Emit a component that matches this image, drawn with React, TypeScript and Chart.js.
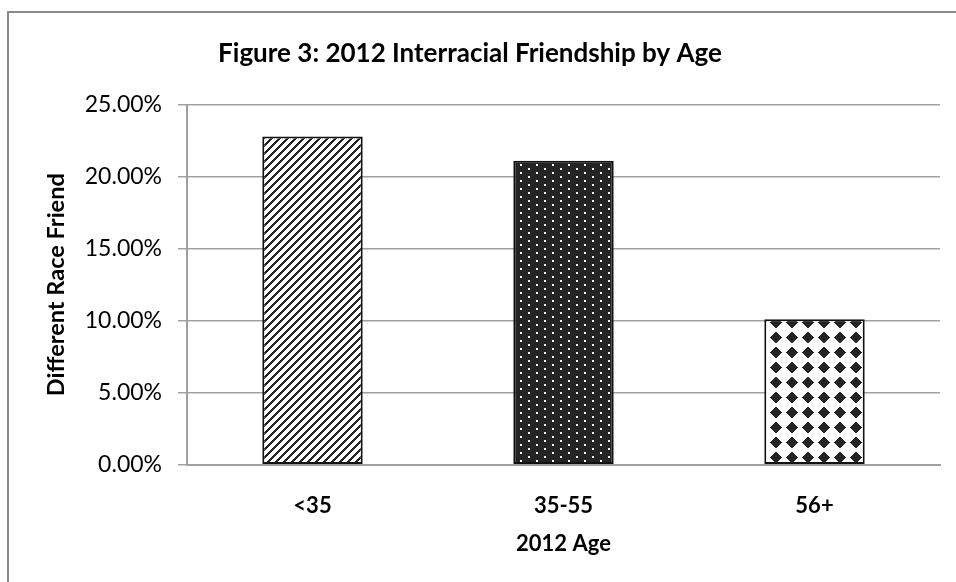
import React, { useEffect, useRef } from 'react';
import { Chart, registerables } from 'chart.js';

Chart.register(...registerables);

// Share of respondents with a friend of a different race, by age group (percent)
const categories = ['<35', '35-55', '56+'];
const friendshipShare = [22.8, 21.1, 10.1];
const yTickValues = [0, 5, 10, 15, 20, 25];

const chartTitle = 'Figure 3: 2012 Interracial Friendship by Age';
const xAxisTitle = '2012 Age';
const yAxisTitle = 'Different Race Friend';

const FONT = 'Lato, "DejaVu Sans", sans-serif';
const GRID = '#a0a0a0';
const INK = '#242424';

// Builds a small pixel tile and turns it into a repeating fill
function makePattern(
  ctx: CanvasRenderingContext2D,
  w: number,
  h: number,
  bg: string,
  fg: string,
  on: (x: number, y: number) => boolean
): CanvasPattern | string {
  const tile = document.createElement('canvas');
  tile.width = w;
  tile.height = h;
  const t = tile.getContext('2d');
  if (!t) return bg;
  t.fillStyle = bg;
  t.fillRect(0, 0, w, h);
  t.fillStyle = fg;
  for (let y = 0; y < h; y++) {
    for (let x = 0; x < w; x++) {
      if (on(x, y)) t.fillRect(x, y, 1, 1);
    }
  }
  return ctx.createPattern(tile, 'repeat') || bg;
}

// Thin grey frame around the chart (only the left and top edges fall on the page)
const framePlugin = {
  id: 'frame',
  beforeDraw(chart: Chart) {
    const { ctx } = chart;
    ctx.save();
    ctx.fillStyle = '#8a8a8a';
    ctx.fillRect(7, 11, 2, chart.height - 11);
    ctx.fillRect(7, 11, chart.width - 7, 2);
    ctx.restore();
  },
};

export default function App() {
  const canvasRef = useRef<HTMLCanvasElement | null>(null);

  useEffect(() => {
    const canvas = canvasRef.current;
    if (!canvas) return;
    const ctx = canvas.getContext('2d');
    if (!ctx) return;

    // Upward diagonal stripes
    const stripes = makePattern(ctx, 8, 8, '#ffffff', INK, (x, y) => (x + y) % 8 < 3);
    // Dark fill with small white dots
    const dots = makePattern(ctx, 16, 8, INK, '#ffffff', (x, y) =>
      (x < 2 && y < 2) || (x >= 8 && x < 10 && y >= 4 && y < 6)
    );
    // Solid diamonds on white
    const diamonds = makePattern(ctx, 16, 15, '#ffffff', INK, (x, y) => {
      const dx = Math.abs(x + 0.5 - 8);
      const dy = Math.abs(y + 0.5 - 7.5);
      return dx + dy <= 6;
    });

    const chart = new Chart(canvas, {
      type: 'bar',
      data: {
        labels: categories,
        datasets: [
          {
            data: friendshipShare,
            backgroundColor: [stripes, dots, diamonds] as any,
            borderColor: '#111111',
            borderWidth: 2,
            borderSkipped: false,
            barPercentage: 0.4,
            categoryPercentage: 1,
          },
        ],
      },
      options: {
        responsive: false,
        animation: false,
        layout: { padding: { left: 0, right: 16, top: 0, bottom: 0 } },
        plugins: {
          legend: { display: false },
          tooltip: { enabled: false },
          title: {
            display: true,
            text: chartTitle,
            color: '#000000',
            font: { family: FONT, size: 26, weight: 'bold' },
            padding: { top: 38.4, bottom: 35.1 },
          },
        },
        scales: {
          x: {
            grid: { display: false },
            border: { display: true, color: GRID, width: 2 },
            ticks: {
              color: '#000000',
              font: { family: FONT, size: 22, weight: 'bold' },
              padding: 20,
            },
            title: {
              display: true,
              text: xAxisTitle,
              color: '#000000',
              font: { family: FONT, size: 22, weight: 'bold' },
              padding: { top: 0, bottom: 25.3 },
            },
            afterFit(scale: any) {
              scale.height = 117.3;
            },
          },
          y: {
            min: 0,
            max: 25,
            grid: { color: GRID, lineWidth: 1.5, drawTicks: true, tickLength: 9 },
            border: { display: true, color: GRID, width: 2 },
            afterBuildTicks(scale: any) {
              scale.ticks = yTickValues.map((v) => ({ value: v }));
            },
            ticks: {
              color: '#000000',
              font: { family: FONT, size: 23 },
              padding: 16,
              callback: (v: any) => Number(v).toFixed(2) + '%',
            },
            title: {
              display: true,
              text: yAxisTitle,
              color: '#000000',
              font: { family: FONT, size: 23.5, weight: 'bold' },
              padding: { top: 42, bottom: 0 },
            },
            afterFit(scale: any) {
              scale.width = 187;
            },
          },
        },
      },
      plugins: [framePlugin],
    });

    return () => chart.destroy();
  }, []);

  return (
    <div style={{ position: 'fixed', left: 0, top: 0, width: 956, height: 582, background: '#ffffff' }}>
      <canvas ref={canvasRef} width={956} height={582} style={{ display: 'block' }} />
    </div>
  );
}
